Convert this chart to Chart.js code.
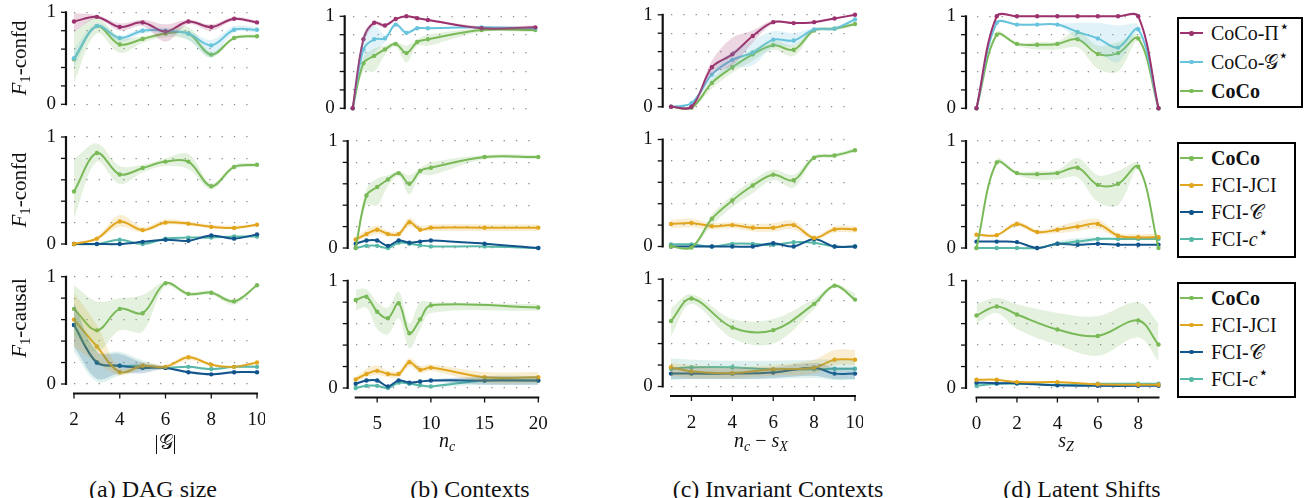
<!DOCTYPE html>
<html>
<head>
<meta charset="utf-8">
<script src="https://cdn.jsdelivr.net/npm/chart.js@4.4.1/dist/chart.umd.min.js"></script>
<style>
  body { margin:0; width:1304px; height:498px; overflow:hidden; background:#fff; position:relative;
         font-family:"Liberation Serif", "DejaVu Serif", serif; color:#111; }
  canvas { position:absolute; z-index:1; }
  .t { position:absolute; white-space:nowrap; line-height:1; z-index:2; color:#111; }
  .ylab { font-size:21px; transform:translate(-50%,-50%) rotate(-90deg); }
  .xt { font-size:20px; transform:translateX(-50%); }
  .cap { font-size:24px; transform:translateX(-50%); }
  sub { font-size:0.7em; vertical-align:-0.3em; line-height:0; }
  sup { font-size:0.85em; vertical-align:0.45em; line-height:0; }
  .leg { position:absolute; border:2px solid #000; box-sizing:border-box; background:#fff; z-index:2; }
  .it { position:absolute; left:0; height:0; }
  .sw { position:absolute; left:1px; top:-1px; width:23px; height:2px; }
  .dot { position:absolute; left:9.3px; top:-1.2px; width:4.4px; height:4.4px; border-radius:50%; }
  .lt { position:absolute; left:32px; top:-11px; font-size:20px; line-height:22px; white-space:nowrap; color:#111; }
</style>
</head>
<body>
<div class="t ylab" style="left:19px;top:58px"><i>F</i><sub>1</sub>-confd</div>
<div class="t ylab" style="left:19px;top:190px"><i>F</i><sub>1</sub>-confd</div>
<div class="t ylab" style="left:19px;top:318px"><i>F</i><sub>1</sub>-causal</div>

<div class="t xt" style="left:447px;top:430px"><i>n</i><sub><i>c</i></sub></div>
<div class="t xt" style="left:761px;top:430px"><i>n</i><sub><i>c</i></sub> − <i>s</i><sub><i>X</i></sub></div>
<div class="t xt" style="left:1066px;top:430px"><i>s</i><sub><i>Z</i></sub></div>

<div class="t cap" style="left:153px;top:477px">(a) DAG size</div>
<div class="t cap" style="left:470px;top:477px">(b) Contexts</div>
<div class="t cap" style="left:778px;top:477px">(c) Invariant Contexts</div>
<div class="t cap" style="left:1082px;top:477px">(d) Latent Shifts</div>

<script>
// ---------- (a) DAG size ----------
const dagX = [2, 3, 4, 5, 6, 7, 8, 9, 10];
const dagTicks = [2, 4, 6, 8, 10];
// confd, oracle variants
const dagPi   = [0.90, 0.95, 0.84, 0.89, 0.79, 0.90, 0.84, 0.93, 0.89];
const dagPiLo = [0.79, 0.93, 0.80, 0.85, 0.68, 0.87, 0.80, 0.91, 0.87];
const dagPiHi = [0.99, 0.97, 0.88, 0.92, 0.87, 0.92, 0.87, 0.95, 0.91];
const dagGs   = [0.50, 0.85, 0.72, 0.80, 0.80, 0.77, 0.64, 0.81, 0.81];
const dagGsLo = [0.40, 0.83, 0.68, 0.77, 0.77, 0.70, 0.51, 0.78, 0.78];
const dagGsHi = [0.60, 0.88, 0.75, 0.83, 0.83, 0.80, 0.70, 0.85, 0.84];
const dagCoco   = [0.49, 0.85, 0.65, 0.71, 0.77, 0.77, 0.54, 0.72, 0.74];
const dagCocoLo = [0.24, 0.77, 0.56, 0.67, 0.73, 0.70, 0.51, 0.70, 0.72];
const dagCocoHi = [0.79, 0.94, 0.73, 0.74, 0.80, 0.84, 0.57, 0.74, 0.76];
// confd, baselines
const dagJci   = [0.00, 0.05, 0.21, 0.13, 0.20, 0.19, 0.16, 0.15, 0.18];
const dagJciLo = [0.00, 0.04, 0.16, 0.11, 0.18, 0.17, 0.15, 0.14, 0.17];
const dagJciHi = [0.01, 0.07, 0.27, 0.16, 0.23, 0.21, 0.18, 0.17, 0.19];
const dagFciC  = [0.00, 0.00, 0.00, 0.02, 0.04, 0.03, 0.08, 0.05, 0.09];
const dagFciCs = [0.00, 0.00, 0.04, 0.00, 0.05, 0.06, 0.06, 0.07, 0.07];
// causal
const dagCocoCa   = [0.70, 0.50, 0.70, 0.66, 0.94, 0.84, 0.85, 0.77, 0.92];
const dagCocoCaLo = [0.45, 0.30, 0.50, 0.49, 0.91, 0.82, 0.83, 0.74, 0.91];
const dagCocoCaHi = [0.92, 0.77, 0.80, 0.83, 0.95, 0.86, 0.87, 0.79, 0.93];
const dagJciCa    = [0.60, 0.35, 0.11, 0.17, 0.16, 0.25, 0.18, 0.16, 0.20];
const dagJciCaLo  = [0.35, 0.20, 0.08, 0.14, 0.14, 0.22, 0.17, 0.15, 0.19];
const dagJciCaHi  = [0.85, 0.55, 0.15, 0.20, 0.18, 0.27, 0.19, 0.17, 0.21];
const dagFciCCa   = [0.55, 0.20, 0.17, 0.15, 0.15, 0.11, 0.09, 0.11, 0.11];
const dagFciCCaLo = [0.35, 0.05, 0.10, 0.10, 0.14, 0.10, 0.08, 0.10, 0.10];
const dagFciCCaHi = [0.75, 0.30, 0.28, 0.20, 0.16, 0.12, 0.10, 0.12, 0.12];
const dagFciCsCa   = [0.55, 0.20, 0.17, 0.17, 0.15, 0.16, 0.14, 0.16, 0.16];
const dagFciCsCaLo = [0.30, 0.02, 0.08, 0.12, 0.14, 0.15, 0.13, 0.15, 0.15];
const dagFciCsCaHi = [0.75, 0.30, 0.30, 0.22, 0.17, 0.17, 0.15, 0.17, 0.17];

// ---------- (b) Contexts ----------
const ctxX = [3, 4, 5, 6, 7, 8, 9, 10, 15, 20];
const ctxCaCocoX = [3, 4, 5, 6, 7, 8, 9, 10, 20];
const ctxTicks = [5, 10, 15, 20];
const ctxPi   = [0, 0.75, 0.93, 0.90, 0.97, 1.00, 0.98, 0.96, 0.87, 0.88];
const ctxPiLo = [0, 0.70, 0.90, 0.88, 0.96, 0.99, 0.97, 0.95, 0.86, 0.85];
const ctxPiHi = [0, 0.80, 0.95, 0.92, 0.98, 1.01, 0.99, 0.97, 0.89, 0.90];
const ctxGs   = [0, 0.64, 0.75, 0.76, 0.91, 0.82, 0.87, 0.87, 0.88, 0.87];
const ctxGsLo = [0, 0.50, 0.60, 0.72, 0.89, 0.80, 0.86, 0.86, 0.87, 0.86];
const ctxGsHi = [0, 0.80, 0.90, 0.80, 0.93, 0.84, 0.88, 0.88, 0.89, 0.88];
const ctxCoco   = [0, 0.49, 0.57, 0.64, 0.70, 0.60, 0.72, 0.75, 0.85, 0.85];
const ctxCocoLo = [0, 0.40, 0.40, 0.58, 0.67, 0.50, 0.68, 0.68, 0.83, 0.83];
const ctxCocoHi = [0, 0.55, 0.65, 0.68, 0.72, 0.68, 0.75, 0.80, 0.87, 0.87];
const ctxJci   = [0.08, 0.13, 0.17, 0.13, 0.13, 0.24, 0.17, 0.19, 0.19, 0.19];
const ctxJciLo = [0.06, 0.10, 0.13, 0.11, 0.11, 0.20, 0.16, 0.16, 0.16, 0.16];
const ctxJciHi = [0.10, 0.17, 0.21, 0.16, 0.16, 0.28, 0.21, 0.22, 0.22, 0.22];
const ctxFciC  = [0.04, 0.07, 0.07, 0.02, 0.07, 0.05, 0.06, 0.07, 0.04, 0.00];
const ctxFciCs = [0.00, 0.02, 0.02, 0.00, 0.05, 0.04, 0.025, 0.015, 0.015, 0.00];
const ctxCocoCa   = [0.82, 0.85, 0.71, 0.65, 0.79, 0.51, 0.64, 0.77, 0.75];
const ctxCocoCaLo = [0.72, 0.75, 0.55, 0.50, 0.65, 0.37, 0.55, 0.70, 0.72];
const ctxCocoCaHi = [0.92, 0.92, 0.80, 0.75, 0.90, 0.60, 0.80, 0.80, 0.78];
const ctxJciCa   = [0.08, 0.13, 0.16, 0.13, 0.13, 0.24, 0.17, 0.19, 0.10, 0.10];
const ctxJciCaLo = [0.06, 0.10, 0.12, 0.10, 0.10, 0.20, 0.14, 0.16, 0.05, 0.05];
const ctxJciCaHi = [0.10, 0.18, 0.21, 0.16, 0.16, 0.28, 0.21, 0.22, 0.15, 0.15];
const ctxFciCCa   = [0.04, 0.07, 0.07, 0.015, 0.07, 0.05, 0.06, 0.07, 0.07, 0.07];
const ctxFciCCaLo = [0.03, 0.06, 0.06, 0.005, 0.06, 0.04, 0.05, 0.06, 0.03, 0.03];
const ctxFciCCaHi = [0.05, 0.08, 0.08, 0.025, 0.08, 0.06, 0.07, 0.08, 0.11, 0.11];
const ctxFciCsCa   = [0.00, 0.02, 0.02, 0.00, 0.05, 0.04, 0.025, 0.015, 0.07, 0.07];
const ctxFciCsCaLo = [0.00, 0.01, 0.01, 0.00, 0.04, 0.03, 0.015, 0.005, 0.03, 0.03];
const ctxFciCsCaHi = [0.01, 0.03, 0.03, 0.01, 0.06, 0.05, 0.035, 0.025, 0.11, 0.11];

// ---------- (c) Invariant Contexts ----------
const invX = [1, 2, 3, 4, 5, 6, 7, 8, 9, 10];
const invCaX = [1, 2, 4, 6, 8, 9, 10];
const invTicks = [2, 4, 6, 8, 10];
const invPi   = [0, 0.00, 0.43, 0.57, 0.77, 0.92, 0.91, 0.92, 0.96, 1.00];
const invPiLo = [0, -0.03, 0.35, 0.45, 0.70, 0.90, 0.90, 0.91, 0.95, 0.99];
const invPiHi = [0, 0.01, 0.50, 0.75, 0.83, 0.94, 0.92, 0.93, 0.97, 1.00];
const invGs   = [0, 0.04, 0.35, 0.51, 0.59, 0.73, 0.72, 0.84, 0.85, 0.95];
const invGsLo = [0, 0.03, 0.28, 0.42, 0.45, 0.65, 0.66, 0.82, 0.83, 0.93];
const invGsHi = [0, 0.05, 0.40, 0.60, 0.72, 0.82, 0.80, 0.86, 0.87, 0.97];
const invCoco   = [0, -0.01, 0.26, 0.43, 0.57, 0.67, 0.62, 0.83, 0.85, 0.90];
const invCocoLo = [0, -0.02, 0.20, 0.37, 0.50, 0.62, 0.55, 0.81, 0.83, 0.88];
const invCocoHi = [0, 0.00, 0.30, 0.48, 0.62, 0.72, 0.67, 0.85, 0.87, 0.92];
const invJci   = [0.21, 0.22, 0.19, 0.20, 0.175, 0.175, 0.20, 0.08, 0.16, 0.16];
const invJciLo = [0.17, 0.18, 0.16, 0.17, 0.14, 0.14, 0.16, 0.06, 0.13, 0.13];
const invJciHi = [0.25, 0.26, 0.22, 0.23, 0.21, 0.22, 0.24, 0.10, 0.19, 0.19];
const invFciC  = [0, 0, 0, 0, 0, 0.03, 0, 0.07, 0, 0];
const invFciCs = [0.02, 0.02, 0, 0.025, 0.025, 0.015, 0.04, 0.035, 0, 0];
const invCocoCa   = [0.61, 0.82, 0.55, 0.525, 0.77, 0.94, 0.81];
const invCocoCaLo = [0.47, 0.77, 0.45, 0.40, 0.72, 0.92, 0.79];
const invCocoCaHi = [0.73, 0.86, 0.63, 0.63, 0.82, 0.95, 0.87];
const invJciCa   = [0.18, 0.14, 0.125, 0.16, 0.175, 0.25, 0.25];
const invJciCaLo = [0.10, 0.08, 0.08, 0.10, 0.12, 0.20, 0.20];
const invJciCaHi = [0.22, 0.20, 0.18, 0.20, 0.25, 0.34, 0.34];
const invFciCCa   = [0.12, 0.12, 0.12, 0.13, 0.175, 0.12, 0.12];
const invFciCCaLo = [0.07, 0.07, 0.07, 0.08, 0.10, 0.07, 0.07];
const invFciCCaHi = [0.18, 0.18, 0.17, 0.18, 0.22, 0.18, 0.18];
const invFciCsCa   = [0.165, 0.18, 0.18, 0.16, 0.16, 0.165, 0.165];
const invFciCsCaLo = [0.06, 0.07, 0.07, 0.07, 0.08, 0.06, 0.06];
const invFciCsCaHi = [0.26, 0.25, 0.24, 0.24, 0.25, 0.25, 0.25];

// ---------- (d) Latent Shifts ----------
const latX = [0, 1, 2, 3, 4, 5, 6, 7, 8, 9];
const latCaX = [0, 1, 2, 4, 6, 8, 9];
const latTicks = [0, 2, 4, 6, 8];
const latPi   = [0, 1, 1, 1, 1, 1, 1, 1, 1, 0];
const latGs   = [0, 0.93, 0.91, 0.91, 0.91, 0.83, 0.76, 0.66, 0.86, 0];
const latGsLo = [0, 0.92, 0.90, 0.90, 0.90, 0.75, 0.62, 0.50, 0.82, 0];
const latGsHi = [0, 0.94, 0.92, 0.92, 0.92, 0.93, 0.93, 0.90, 0.90, 0];
const latCoco   = [0, 0.80, 0.70, 0.69, 0.70, 0.75, 0.59, 0.60, 0.76, 0];
const latCocoLo = [0, 0.78, 0.68, 0.64, 0.64, 0.66, 0.43, 0.40, 0.73, 0];
const latCocoHi = [0, 0.83, 0.72, 0.72, 0.73, 0.84, 0.68, 0.72, 0.79, 0];
const latJci   = [0.125, 0.12, 0.225, 0.15, 0.17, 0.20, 0.225, 0.115, 0.10, 0.10];
const latJciLo = [0.11, 0.11, 0.20, 0.13, 0.14, 0.16, 0.18, 0.09, 0.08, 0.08];
const latJciHi = [0.14, 0.13, 0.25, 0.17, 0.20, 0.25, 0.27, 0.14, 0.13, 0.13];
const latFciC  = [0.06, 0.06, 0.055, 0, 0.04, 0.03, 0.04, 0.03, 0.03, 0.03];
const latFciCs   = [0, 0, 0, 0, 0.04, 0.06, 0.085, 0.085, 0.085, 0.085];
const latFciCsLo = [0, 0, 0, 0, 0.02, 0.03, 0.07, 0.075, 0.075, 0.075];
const latFciCsHi = [0, 0, 0, 0, 0.06, 0.09, 0.10, 0.095, 0.095, 0.095];
const latCocoCa   = [0.675, 0.76, 0.685, 0.545, 0.485, 0.63, 0.405];
const latCocoCaLo = [0.60, 0.70, 0.55, 0.40, 0.30, 0.47, 0.25];
const latCocoCaHi = [0.78, 0.84, 0.78, 0.70, 0.67, 0.80, 0.60];
const latJciCa   = [0.077, 0.077, 0.055, 0.055, 0.035, 0.03, 0.03];
const latFciCCa  = [0.05, 0.045, 0.045, 0.025, 0.02, 0.02, 0.02];
const latFciCsCa = [0.02, 0.04, 0.04, 0.03, 0.04, 0.04, 0.04];

const yTickVals = [0, 0.2, 0.4, 0.6, 0.8, 1];

// method colours
const PI = [156, 50, 110];
const GS = [104, 196, 222];
const COCO = [122, 186, 88];
const JCI = [226, 166, 30];
const FCIC = [18, 84, 140];
const FCICS = [88, 184, 168];
const rgb = c => `rgb(${c.join(',')})`;
const rgba = (c, a) => `rgba(${c.join(',')},${a})`;

const FONT = "'Liberation Serif', 'DejaVu Serif', serif";
Chart.defaults.font.family = FONT;
const T = 0.35;

// layout of the 4x3 grid (pixels)
const colGeom = [
  { spine: 66,    left: 74,    right: 257,   min: 2, max: 10, dy: 0,   ticks: dagTicks },
  { spine: 347.7, left: 355.7, right: 538.3, min: 3, max: 20, dy: 4,   ticks: ctxTicks },
  { spine: 662.7, left: 671,   right: 855,   min: 1, max: 10, dy: 2.5, ticks: invTicks },
  { spine: 966,   left: 976.5, right: 1158.5, min: 0, max: 9, dy: 4,   ticks: latTicks },
];
const rowGeom = [
  { top: 12.3, bottom: 104.3 },
  { top: 137, bottom: 244 },
  { top: 276.7, bottom: 384 },
];

const spinePlugin = {
  id: 'spines',
  afterDraw(chart, args, opts) {
    const { ctx, chartArea: a, scales: { x, y } } = chart;
    ctx.save();
    ctx.strokeStyle = '#111';
    const sx = a.left - opts.offset;
    ctx.lineWidth = 2.2;
    ctx.beginPath();
    ctx.moveTo(sx, y.getPixelForValue(0) + 1);
    ctx.lineTo(sx, y.getPixelForValue(1) - 1);
    ctx.stroke();
    ctx.lineWidth = 1.3;
    y.ticks.forEach(t => {
      const py = y.getPixelForValue(t.value);
      ctx.beginPath(); ctx.moveTo(sx - 5, py); ctx.lineTo(sx, py); ctx.stroke();
    });
    if (opts.xAxis) {
      const sy = a.bottom + 9.5;
      ctx.lineWidth = 2.2;
      ctx.beginPath();
      ctx.moveTo(x.getPixelForValue(x.min) - 1, sy);
      ctx.lineTo(x.getPixelForValue(x.max) + 1, sy);
      ctx.stroke();
      ctx.lineWidth = 1.3;
      x.ticks.forEach(t => {
        const px = x.getPixelForValue(t.value);
        ctx.beginPath(); ctx.moveTo(px, sy); ctx.lineTo(px, sy + 5); ctx.stroke();
      });
    }
    ctx.restore();
  }
};

const pts = (xs, ys) => xs.map((x, i) => ({ x, y: ys[i] }));
const noPad = s => { s.paddingTop = 0; s.paddingBottom = 0; s.paddingLeft = 0; s.paddingRight = 0; };

function makePanel(ci, ri, series, shift, xTitle) {
  const c = colGeom[ci], r = rowGeom[ri];
  const dx = shift || 0;
  const left = c.left + dx, right = c.right + dx;
  const top = r.top + c.dy, bottom = r.bottom + c.dy;
  const last = ri === 2;
  const x0 = Math.floor(c.spine + dx - 44), x1 = Math.ceil(right + 8);
  const y0 = Math.floor(top - 12);
  const y1 = Math.ceil(bottom + (xTitle ? 72 : last ? 42 : 13));
  const cv = document.createElement('canvas');
  cv.width = x1 - x0; cv.height = y1 - y0;
  cv.style.left = x0 + 'px'; cv.style.top = y0 + 'px';
  document.body.appendChild(cv);

  const ds = [];
  series.forEach(([xs, ys, lo, hi, col]) => {
    if (!lo) return;
    ds.push({ data: pts(xs, hi), borderColor: 'rgba(0,0,0,0)', borderWidth: 1, pointRadius: 0,
              fill: false, tension: T, clip: false });
    ds.push({ data: pts(xs, lo), borderColor: 'rgba(0,0,0,0)', borderWidth: 1, pointRadius: 0,
              fill: '-1', backgroundColor: rgba(col, 0.2), tension: T, clip: false });
  });
  series.forEach(([xs, ys, lo, hi, col]) => {
    ds.push({ data: pts(xs, ys), borderColor: rgb(col), backgroundColor: rgb(col),
              borderWidth: 2, pointRadius: 2.2, pointBorderWidth: 0, fill: false,
              tension: T, clip: false });
  });

  new Chart(cv, {
    type: 'line',
    data: { datasets: ds },
    options: {
      responsive: false,
      animation: false,
      events: [],
      layout: { autoPadding: false, padding: { top: top - y0, right: x1 - right, left: 0, bottom: 0 } },
      elements: { line: { capBezierPoints: false } },
      plugins: {
        legend: { display: false },
        tooltip: { enabled: false },
        spines: { xAxis: last, offset: left - c.spine - dx }
      },
      scales: {
        x: {
          type: 'linear', min: c.min, max: c.max,
          afterFit: s => { s.height = y1 - bottom; noPad(s); },
          afterBuildTicks: s => { s.ticks = c.ticks.map(v => ({ value: v })); },
          grid: { display: false },
          border: { display: false },
          title: { display: !!xTitle, text: xTitle || '', color: '#111',
                   font: { family: FONT, size: 20 }, padding: 0 },
          ticks: { display: last, padding: 17, color: '#111', font: { family: FONT, size: 19 },
                   maxRotation: 0, autoSkip: false }
        },
        y: {
          min: 0, max: 1,
          afterFit: s => { s.width = left - x0; noPad(s); },
          afterBuildTicks: s => { s.ticks = yTickVals.map(v => ({ value: v })); },
          grid: { color: 'rgba(0,0,0,0.45)', lineWidth: 1.3, drawTicks: false },
          border: { display: false, dash: [1.3, 11] },
          ticks: { padding: left - c.spine - dx + 10, color: '#111', font: { family: FONT, size: 19 },
                   autoSkip: false,
                   callback: v => (v === 0 ? '0' : v === 1 ? '1' : '') }
        }
      }
    },
    plugins: [spinePlugin]
  });
}

// (a) DAG size
makePanel(0, 0, [[dagX, dagPi, dagPiLo, dagPiHi, PI], [dagX, dagGs, dagGsLo, dagGsHi, GS],
                 [dagX, dagCoco, dagCocoLo, dagCocoHi, COCO]]);
makePanel(0, 1, [[dagX, dagCoco, dagCocoLo, dagCocoHi, COCO], [dagX, dagJci, dagJciLo, dagJciHi, JCI],
                 [dagX, dagFciC, null, null, FCIC], [dagX, dagFciCs, null, null, FCICS]]);
makePanel(0, 2, [[dagX, dagCocoCa, dagCocoCaLo, dagCocoCaHi, COCO], [dagX, dagJciCa, dagJciCaLo, dagJciCaHi, JCI],
                 [dagX, dagFciCCa, dagFciCCaLo, dagFciCCaHi, FCIC], [dagX, dagFciCsCa, dagFciCsCaLo, dagFciCsCaHi, FCICS]],
          0, '|\u{1D4A2}|');
// (b) Contexts
makePanel(1, 0, [[ctxX, ctxPi, ctxPiLo, ctxPiHi, PI], [ctxX, ctxGs, ctxGsLo, ctxGsHi, GS],
                 [ctxX, ctxCoco, ctxCocoLo, ctxCocoHi, COCO]], -3);
makePanel(1, 1, [[ctxX, ctxCoco, ctxCocoLo, ctxCocoHi, COCO], [ctxX, ctxJci, ctxJciLo, ctxJciHi, JCI],
                 [ctxX, ctxFciC, null, null, FCIC], [ctxX, ctxFciCs, null, null, FCICS]]);
makePanel(1, 2, [[ctxCaCocoX, ctxCocoCa, ctxCocoCaLo, ctxCocoCaHi, COCO], [ctxX, ctxJciCa, ctxJciCaLo, ctxJciCaHi, JCI],
                 [ctxX, ctxFciCCa, ctxFciCCaLo, ctxFciCCaHi, FCIC], [ctxX, ctxFciCsCa, ctxFciCsCaLo, ctxFciCsCaHi, FCICS]]);
// (c) Invariant Contexts
makePanel(2, 0, [[invX, invPi, invPiLo, invPiHi, PI], [invX, invGs, invGsLo, invGsHi, GS],
                 [invX, invCoco, invCocoLo, invCocoHi, COCO]]);
makePanel(2, 1, [[invX, invCoco, invCocoLo, invCocoHi, COCO], [invX, invJci, invJciLo, invJciHi, JCI],
                 [invX, invFciC, null, null, FCIC], [invX, invFciCs, null, null, FCICS]]);
makePanel(2, 2, [[invCaX, invCocoCa, invCocoCaLo, invCocoCaHi, COCO], [invCaX, invJciCa, invJciCaLo, invJciCaHi, JCI],
                 [invCaX, invFciCCa, invFciCCaLo, invFciCCaHi, FCIC], [invCaX, invFciCsCa, invFciCsCaLo, invFciCsCaHi, FCICS]]);
// (d) Latent Shifts
makePanel(3, 0, [[latX, latPi, null, null, PI], [latX, latGs, latGsLo, latGsHi, GS],
                 [latX, latCoco, latCocoLo, latCocoHi, COCO]]);
makePanel(3, 1, [[latX, latCoco, latCocoLo, latCocoHi, COCO], [latX, latJci, latJciLo, latJciHi, JCI],
                 [latX, latFciC, null, null, FCIC], [latX, latFciCs, latFciCsLo, latFciCsHi, FCICS]]);
makePanel(3, 2, [[latCaX, latCocoCa, latCocoCaLo, latCocoCaHi, COCO], [latCaX, latJciCa, null, null, JCI],
                 [latCaX, latFciCCa, null, null, FCIC], [latCaX, latFciCsCa, null, null, FCICS]]);

// legends
const legendOracle = [['CoCo-Π<sup>⋆</sup>', PI], ['CoCo-𝒢<sup>⋆</sup>', GS], ['<b>CoCo</b>', COCO]];
const legendBase = [['<b>CoCo</b>', COCO], ['FCI-JCI', JCI], ['FCI-𝒞', FCIC], ['FCI-<i>c</i><sup>⋆</sup>', FCICS]];
const legendBoxes = [
  { left: 1177, top: 17, w: 126, h: 91, first: 16.3, step: 28.7, items: legendOracle },
  { left: 1177, top: 142, w: 119, h: 116, first: 16.3, step: 27, items: legendBase },
  { left: 1177, top: 282, w: 119, h: 116, first: 15.8, step: 27.2, items: legendBase },
];
legendBoxes.forEach(b => {
  const box = document.createElement('div');
  box.className = 'leg';
  Object.assign(box.style, { left: b.left + 'px', top: b.top + 'px', width: b.w + 'px', height: b.h + 'px' });
  b.items.forEach(([label, col], i) => {
    const it = document.createElement('div');
    it.className = 'it';
    it.style.top = (b.first + i * b.step - 2) + 'px';
    it.innerHTML = `<div class="sw" style="background:${rgb(col)}"><div class="dot" style="background:${rgb(col)}"></div></div>` +
                   `<div class="lt">${label}</div>`;
    box.appendChild(it);
  });
  document.body.appendChild(box);
});
</script>
</body>
</html>
